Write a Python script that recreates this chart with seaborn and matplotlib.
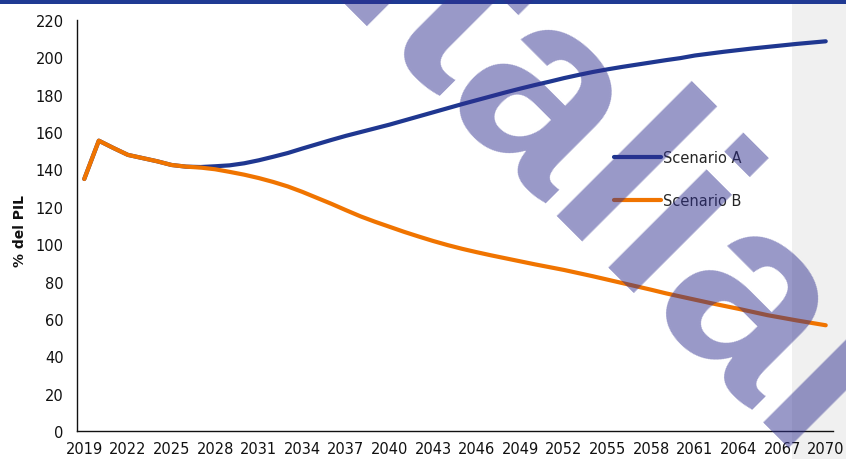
import numpy as np
import pandas as pd
import matplotlib
matplotlib.use("Agg")
import matplotlib.pyplot as plt
import seaborn as sns
from matplotlib.patches import Rectangle

years = list(range(2019, 2071))
scenario_a = [134.9, 155.4, 151.5, 147.8, 146.1, 144.4, 142.4, 141.5, 141.3, 141.7,
              142.2, 143.3, 144.9, 146.8, 148.8, 151.2, 153.5, 155.8, 158.0, 160.0,
              162.0, 164.0, 166.2, 168.4, 170.6, 172.8, 175.0, 177.1, 179.2, 181.3,
              183.3, 185.2, 187.0, 188.9, 190.6, 192.2, 193.6, 194.9, 196.1, 197.3,
              198.5, 199.6, 201.0, 202.0, 203.0, 203.9, 204.8, 205.6, 206.4, 207.2,
              207.9, 208.6]
scenario_b = [134.9, 155.4, 151.5, 147.8, 146.1, 144.4, 142.4, 141.5, 141.0, 140.1,
              138.7, 137.2, 135.4, 133.3, 130.9, 128.0, 124.8, 121.6, 118.2, 114.9,
              112.0, 109.3, 106.6, 104.1, 101.7, 99.5, 97.5, 95.7, 94.0, 92.4,
              90.8, 89.2, 87.7, 86.2, 84.5, 82.8, 81.0, 79.2, 77.4, 75.6,
              73.7, 72.0, 70.3, 68.6, 67.0, 65.4, 63.7, 62.0, 60.6, 59.2,
              57.9, 56.6]
series_names = ["Scenario A", "Scenario B"]
tick_years = years[::3]
y_ticks = list(range(0, 221, 20))
y_label = "% del PIL"
watermark = "Italial"

colors = {"Scenario A": "#1f3790", "Scenario B": "#f07400"}

df = pd.DataFrame({
    "pos": [y - years[0] for y in years] * 2,
    "value": scenario_a + scenario_b,
    "Scenario": [series_names[0]] * len(years) + [series_names[1]] * len(years),
})

sns.set_style("white")
plt.rcParams["font.family"] = ["DejaVu Sans"]

W, H = 846, 460
fig = plt.figure(figsize=(W / 100, H / 100), dpi=100)
fig.patch.set_facecolor("white")

# grey band on the right and blue band on top
fig.patches.append(Rectangle((792 / W, 0), 1 - 792 / W, 1, transform=fig.transFigure,
                             facecolor="#f0f0f0", edgecolor="none", zorder=-2))
fig.patches.append(Rectangle((0, 1 - 5 / H), 1, 5 / H, transform=fig.transFigure,
                             facecolor="#203a93", edgecolor="none", zorder=-1))

ax = fig.add_axes([77 / W, 1 - 432 / H, (833 - 77) / W, (432 - 21) / H])
ax.set_facecolor("none")

sns.lineplot(data=df, x="pos", y="value", hue="Scenario", palette=colors,
             linewidth=3.0, ax=ax, sort=False, legend=True)
for ln in ax.get_lines():
    ln.set_solid_capstyle("round")
    ln.set_solid_joinstyle("round")

ax.set_xlim(-0.5, len(years) - 0.5)
ax.set_ylim(0, 220)
ax.set_yticks(y_ticks)
ax.set_xticks([y - years[0] for y in tick_years])
ax.set_xticklabels([str(y) for y in tick_years])
ax.set_xticks(np.arange(-0.5, len(years), 1.0), minor=True)
ax.tick_params(axis="x", which="major", length=0, pad=7, labelsize=10.5, colors="#111111")
ax.tick_params(axis="x", which="minor", length=3.6, width=1, direction="out", color="#222222")
ax.tick_params(axis="y", which="major", length=3.6, width=1, direction="out", pad=6,
               labelsize=10.5, colors="#111111")
ax.tick_params(axis="y", colors="#222222", labelcolor="#111111")
for s in ["top", "right"]:
    ax.spines[s].set_visible(False)
for s in ["left", "bottom"]:
    ax.spines[s].set_color("#111111")
    ax.spines[s].set_linewidth(1.0)
ax.set_xlabel("")
ax.set_ylabel(y_label, fontsize=10, fontweight="bold", color="#111111")
ax.yaxis.set_label_coords(-0.066, 0.49)

handles, labels = ax.get_legend_handles_labels()
ax.get_legend().remove()
for h in handles:
    h.set_linewidth(3.0)
    h.set_solid_capstyle("round")
fig.legend(handles, labels, loc="upper left", bbox_to_anchor=(614 / W, 1 - 151 / H),
           frameon=False, fontsize=10.5, handlelength=3.2, handletextpad=0.15,
           labelspacing=1.9, borderpad=0, borderaxespad=0)

# watermark
fig.text(322 / W, 1 + 1 / H, watermark, rotation=-45, rotation_mode="anchor",
         ha="left", va="baseline", fontsize=189, fontweight="bold",
         family=["Liberation Sans", "DejaVu Sans"], color="#2e2e8f", alpha=0.49,
         zorder=10)

fig.savefig("out.png", dpi=100)
